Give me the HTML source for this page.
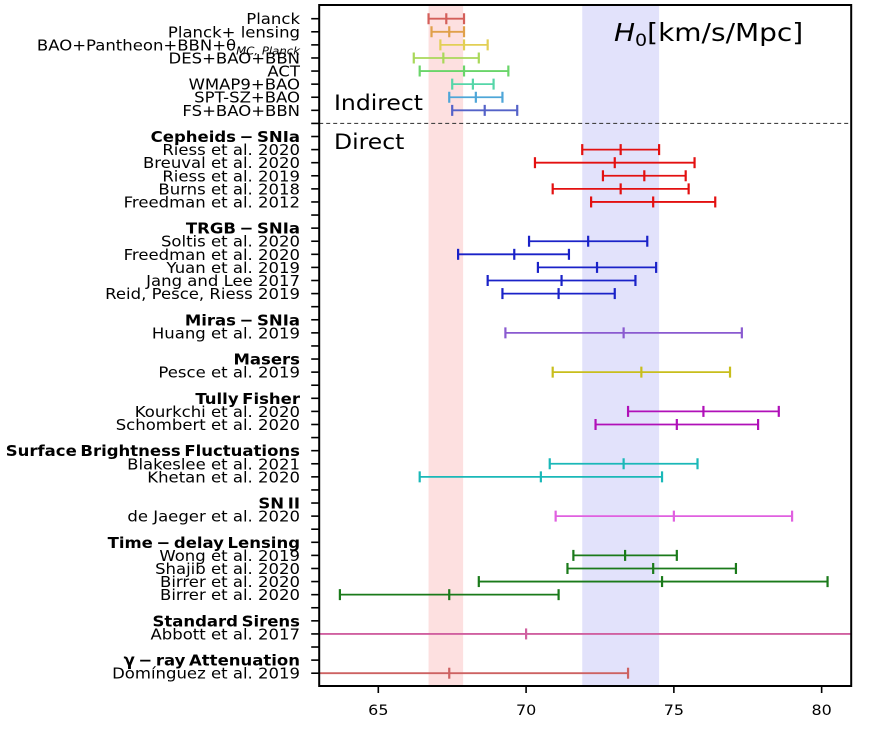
<!DOCTYPE html>
<html><head><meta charset="utf-8"><style>
html,body{margin:0;padding:0;background:#fff;}
svg{display:block;font-family:"DejaVu Sans","Liberation Sans",sans-serif;}
</style></head><body>
<svg id="chart" width="875" height="729" xmlns="http://www.w3.org/2000/svg"></svg>
<script>
const labels = ["Planck","Planck+ lensing","BAO+Pantheon+BBN+θ","DES+BAO+BBN","ACT","WMAP9+BAO","SPT-SZ+BAO","FS+BAO+BBN","",
"Cepheids − SNIa","Riess et al. 2020","Breuval et al. 2020","Riess et al. 2019","Burns et al. 2018","Freedman et al. 2012","",
"TRGB − SNIa","Soltis et al. 2020","Freedman et al. 2020","Yuan et al. 2019","Jang and Lee 2017","Reid, Pesce, Riess 2019","",
"Miras − SNIa","Huang et al. 2019","","Masers","Pesce et al. 2019","","Tully Fisher","Kourkchi et al. 2020","Schombert et al. 2020","",
"Surface Brightness Fluctuations","Blakeslee et al. 2021","Khetan et al. 2020","","SN II","de Jaeger et al. 2020","",
"Time − delay Lensing","Wong et al. 2019","Shajib et al. 2020","Birrer et al. 2020","Birrer et al. 2020","",
"Standard Sirens","Abbott et al. 2017","","γ − ray Attenuation","Domínguez et al. 2019"];
const headers = [9,16,23,26,29,33,37,40,46,49];
const centers = [67.3,67.4,67.9,67.2,67.9,68.2,68.3,68.6,null,
null,73.2,73.0,74.0,73.2,74.3,null,
null,72.1,69.6,72.4,71.2,71.1,null,
null,73.3,null,null,73.9,null,null,76.0,75.1,null,
null,73.3,70.5,null,null,75.0,null,
null,73.35,74.3,74.6,67.4,null,
null,70.0,null,null,67.4];
const lows = [66.7,66.8,67.1,66.2,66.4,67.5,67.4,67.5,null,
null,71.9,70.3,72.6,70.9,72.2,null,
null,70.1,67.7,70.4,68.7,69.2,null,
null,69.3,null,null,70.9,null,null,73.45,72.35,null,
null,70.8,66.4,null,null,71.0,null,
null,71.6,71.4,68.4,63.7,null,
null,62.0,null,null,61.0];
const highs = [67.9,67.9,68.7,68.4,69.4,68.9,69.2,69.7,null,
null,74.5,75.7,75.4,75.5,76.4,null,
null,74.1,71.45,74.4,73.7,73.0,null,
null,77.3,null,null,76.9,null,null,78.55,77.85,null,
null,75.8,74.6,null,null,79.0,null,
null,75.1,77.1,80.2,71.1,null,
null,82.0,null,null,73.45];
const colors = ["#d45f5a","#e0a04a","#e2cf55","#a9d85a","#6ad56a","#55d6a8","#4ea6d8","#5462c8",null,
null,"#e31010","#e31010","#e31010","#e31010","#e31010",null,
null,"#1a22c8","#1a22c8","#1a22c8","#1a22c8","#1a22c8",null,
null,"#8a5ad0",null,null,"#c8be1c",null,null,"#b010b8","#b010b8",null,
null,"#1ab8b8","#1ab8b8",null,null,"#e060e0",null,
null,"#1a7a1a","#1a7a1a","#1a7a1a","#1a7a1a",null,
null,"#d060a0",null,null,"#cd6262"];
const xTicks = [65,70,75,80];

const svg = document.getElementById('chart');
const NS = "http://www.w3.org/2000/svg";
const L=319.2,R=851.2,T=5,B=686;
const xmin=63,xmax=81;
const X = v => L + (v-xmin)*(R-L)/(xmax-xmin);
const Y = i => 18.7 + i*13.09;
function mk(tag, attrs, parent){const e=document.createElementNS(NS,tag);for(const k in attrs)e.setAttribute(k,attrs[k]);(parent||svg).appendChild(e);return e;}
function txt(x,y,sx,attrs){attrs.x=0;attrs.y=0;attrs.transform='translate('+x+','+y+') scale('+sx+',1)';return mk('text',attrs);}

const defs = mk('defs',{});
const cp = mk('clipPath',{id:'clip'},defs);
mk('rect',{x:L,y:T,width:R-L,height:B-T},cp);

let band1 = mk('rect',{x:X(66.7),y:T,width:X(67.87)-X(66.7),height:B-T,fill:'#fde0e0'});


let band2 = mk('rect',{x:X(71.9),y:T,width:X(74.5)-X(71.9),height:B-T,fill:'#e2e2fb'});



let dash = mk('line',{x1:L,x2:R,y1:Y(8),y2:Y(8),stroke:'#444','stroke-width':1.2,'stroke-dasharray':'4,3'});



const g = mk('g',{'clip-path':'url(#clip)'});
labels.forEach((lab,i)=>{
  if(centers[i]==null) return;
  const y=Y(i), c=colors[i];
  const eg = mk('g',{},g);
  
  
  mk('line',{x1:X(lows[i]),x2:X(highs[i]),y1:y,y2:y,stroke:c,'stroke-width':1.8},eg);
  [lows[i],centers[i],highs[i]].forEach(v=>{
    mk('line',{x1:X(v),x2:X(v),y1:y-5.5,y2:y+5.5,stroke:c,'stroke-width':2.2},eg);
  });
});

let frame = mk('rect',{x:L,y:T,width:R-L,height:B-T,fill:'none',stroke:'#000','stroke-width':2});



labels.forEach((lab,i)=>{
  const y=Y(i);
  mk('line',{x1:L-8,x2:L,y1:y,y2:y,stroke:'#000','stroke-width':1.6});
  if(!lab) return;
  const isH = headers.includes(i);
  const t = txt(300,y+5.5,1.065,{'text-anchor':'end','font-size':15.5,fill:'#000'});
  
  
  if(isH){ t.setAttribute('font-weight','bold'); t.setAttribute('word-spacing','-2'); }
  t.textContent=lab;
  if(i===2){
    const s=mk('tspan',{'font-size':11,'font-style':'italic',dy:4},t);
    s.textContent='MC, Planck';
  }
});

xTicks.forEach(v=>{
  mk('line',{x1:X(v),x2:X(v),y1:B,y2:B+7,stroke:'#000','stroke-width':1.6});
  const t=txt(X(v),B+29,1.1,{'text-anchor':'middle','font-size':14.5});
  
  
  t.textContent=v;
});

let h = txt(614,41,1.12,{'font-size':25});


h.innerHTML='<tspan font-style="italic">H</tspan><tspan font-size="17" dy="5">0</tspan><tspan dy="-5">[km/s/Mpc]</tspan>';
let ind = txt(334,110,1.12,{'font-size':21});


ind.textContent='Indirect';
let dir = txt(334,149,1.12,{'font-size':21});


dir.textContent='Direct';
</script>
</body></html>
